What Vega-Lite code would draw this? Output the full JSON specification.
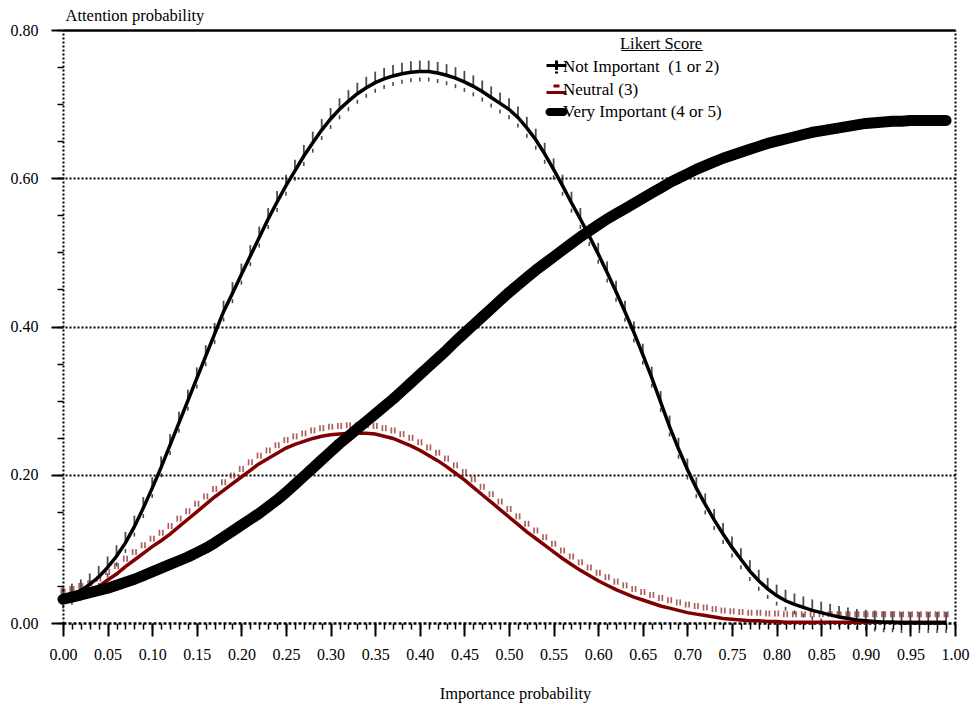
{
  "$schema": "https://vega.github.io/schema/vega-lite/v6.json",
  "width": 892,
  "height": 593,
  "autosize": {"type": "none"},
  "padding": {"left": 63, "top": 30, "right": 19, "bottom": 86},
  "background": "white",
  "config": {
    "view": {"stroke": null},
    "font": "Liberation Serif",
    "axis": {"labelFont": "Liberation Serif", "titleFont": "Liberation Serif", "labelColor": "black", "titleColor": "black", "tickColor": "black", "domainColor": "black", "titleFontWeight": "normal", "labelFontSize": 16, "titleFontSize": 16.5, "grid": false}
  },
  "data": {"values": [
    {"x":0.00,"ni":0.033,"ne":0.032,"vi":0.032},
    {"x":0.01,"ni":0.038,"ne":0.035,"vi":0.035},
    {"x":0.02,"ni":0.044,"ne":0.039,"vi":0.038},
    {"x":0.03,"ni":0.052,"ne":0.043,"vi":0.041},
    {"x":0.04,"ni":0.062,"ne":0.049,"vi":0.044},
    {"x":0.05,"ni":0.075,"ne":0.058,"vi":0.047},
    {"x":0.06,"ni":0.090,"ne":0.066,"vi":0.051},
    {"x":0.07,"ni":0.108,"ne":0.076,"vi":0.055},
    {"x":0.08,"ni":0.130,"ne":0.085,"vi":0.059},
    {"x":0.09,"ni":0.155,"ne":0.094,"vi":0.064},
    {"x":0.10,"ni":0.182,"ne":0.103,"vi":0.069},
    {"x":0.11,"ni":0.210,"ne":0.111,"vi":0.074},
    {"x":0.12,"ni":0.240,"ne":0.120,"vi":0.079},
    {"x":0.13,"ni":0.270,"ne":0.130,"vi":0.084},
    {"x":0.14,"ni":0.300,"ne":0.140,"vi":0.089},
    {"x":0.15,"ni":0.330,"ne":0.150,"vi":0.095},
    {"x":0.16,"ni":0.360,"ne":0.160,"vi":0.101},
    {"x":0.17,"ni":0.390,"ne":0.170,"vi":0.108},
    {"x":0.18,"ni":0.420,"ne":0.179,"vi":0.116},
    {"x":0.19,"ni":0.445,"ne":0.188,"vi":0.124},
    {"x":0.20,"ni":0.470,"ne":0.197,"vi":0.132},
    {"x":0.21,"ni":0.495,"ne":0.206,"vi":0.140},
    {"x":0.22,"ni":0.520,"ne":0.215,"vi":0.148},
    {"x":0.23,"ni":0.545,"ne":0.222,"vi":0.157},
    {"x":0.24,"ni":0.568,"ne":0.229,"vi":0.166},
    {"x":0.25,"ni":0.590,"ne":0.236,"vi":0.176},
    {"x":0.26,"ni":0.610,"ne":0.241,"vi":0.187},
    {"x":0.27,"ni":0.630,"ne":0.245,"vi":0.198},
    {"x":0.28,"ni":0.648,"ne":0.249,"vi":0.209},
    {"x":0.29,"ni":0.665,"ne":0.252,"vi":0.220},
    {"x":0.30,"ni":0.680,"ne":0.254,"vi":0.231},
    {"x":0.31,"ni":0.693,"ne":0.255,"vi":0.242},
    {"x":0.32,"ni":0.704,"ne":0.256,"vi":0.252},
    {"x":0.33,"ni":0.714,"ne":0.256,"vi":0.262},
    {"x":0.34,"ni":0.722,"ne":0.256,"vi":0.272},
    {"x":0.35,"ni":0.729,"ne":0.255,"vi":0.282},
    {"x":0.36,"ni":0.734,"ne":0.252,"vi":0.292},
    {"x":0.37,"ni":0.738,"ne":0.249,"vi":0.302},
    {"x":0.38,"ni":0.741,"ne":0.244,"vi":0.313},
    {"x":0.39,"ni":0.743,"ne":0.239,"vi":0.324},
    {"x":0.40,"ni":0.744,"ne":0.233,"vi":0.335},
    {"x":0.41,"ni":0.744,"ne":0.226,"vi":0.346},
    {"x":0.42,"ni":0.742,"ne":0.219,"vi":0.357},
    {"x":0.43,"ni":0.739,"ne":0.211,"vi":0.368},
    {"x":0.44,"ni":0.735,"ne":0.202,"vi":0.380},
    {"x":0.45,"ni":0.730,"ne":0.193,"vi":0.391},
    {"x":0.46,"ni":0.724,"ne":0.183,"vi":0.402},
    {"x":0.47,"ni":0.717,"ne":0.173,"vi":0.413},
    {"x":0.48,"ni":0.709,"ne":0.163,"vi":0.424},
    {"x":0.49,"ni":0.701,"ne":0.153,"vi":0.435},
    {"x":0.50,"ni":0.693,"ne":0.143,"vi":0.446},
    {"x":0.51,"ni":0.682,"ne":0.133,"vi":0.456},
    {"x":0.52,"ni":0.668,"ne":0.123,"vi":0.466},
    {"x":0.53,"ni":0.652,"ne":0.114,"vi":0.476},
    {"x":0.54,"ni":0.633,"ne":0.105,"vi":0.485},
    {"x":0.55,"ni":0.612,"ne":0.096,"vi":0.494},
    {"x":0.56,"ni":0.590,"ne":0.087,"vi":0.503},
    {"x":0.57,"ni":0.567,"ne":0.079,"vi":0.512},
    {"x":0.58,"ni":0.545,"ne":0.071,"vi":0.521},
    {"x":0.59,"ni":0.522,"ne":0.064,"vi":0.529},
    {"x":0.60,"ni":0.498,"ne":0.057,"vi":0.537},
    {"x":0.61,"ni":0.473,"ne":0.051,"vi":0.545},
    {"x":0.62,"ni":0.447,"ne":0.045,"vi":0.552},
    {"x":0.63,"ni":0.420,"ne":0.040,"vi":0.559},
    {"x":0.64,"ni":0.392,"ne":0.035,"vi":0.566},
    {"x":0.65,"ni":0.362,"ne":0.031,"vi":0.573},
    {"x":0.66,"ni":0.331,"ne":0.027,"vi":0.580},
    {"x":0.67,"ni":0.298,"ne":0.023,"vi":0.587},
    {"x":0.68,"ni":0.265,"ne":0.020,"vi":0.594},
    {"x":0.69,"ni":0.235,"ne":0.017,"vi":0.600},
    {"x":0.70,"ni":0.207,"ne":0.014,"vi":0.606},
    {"x":0.71,"ni":0.182,"ne":0.012,"vi":0.612},
    {"x":0.72,"ni":0.160,"ne":0.010,"vi":0.617},
    {"x":0.73,"ni":0.139,"ne":0.008,"vi":0.622},
    {"x":0.74,"ni":0.120,"ne":0.006,"vi":0.627},
    {"x":0.75,"ni":0.102,"ne":0.005,"vi":0.631},
    {"x":0.76,"ni":0.086,"ne":0.004,"vi":0.635},
    {"x":0.77,"ni":0.070,"ne":0.003,"vi":0.639},
    {"x":0.78,"ni":0.057,"ne":0.003,"vi":0.643},
    {"x":0.79,"ni":0.046,"ne":0.002,"vi":0.647},
    {"x":0.80,"ni":0.037,"ne":0.002,"vi":0.650},
    {"x":0.81,"ni":0.030,"ne":0.001,"vi":0.653},
    {"x":0.82,"ni":0.025,"ne":0.001,"vi":0.656},
    {"x":0.83,"ni":0.021,"ne":0.001,"vi":0.659},
    {"x":0.84,"ni":0.017,"ne":0.001,"vi":0.662},
    {"x":0.85,"ni":0.014,"ne":0.001,"vi":0.664},
    {"x":0.86,"ni":0.011,"ne":0.001,"vi":0.666},
    {"x":0.87,"ni":0.008,"ne":0.001,"vi":0.668},
    {"x":0.88,"ni":0.006,"ne":0.001,"vi":0.670},
    {"x":0.89,"ni":0.004,"ne":0.001,"vi":0.672},
    {"x":0.90,"ni":0.003,"ne":0.001,"vi":0.674},
    {"x":0.91,"ni":0.002,"ne":0.001,"vi":0.675},
    {"x":0.92,"ni":0.001,"ne":0.001,"vi":0.676},
    {"x":0.93,"ni":0.001,"ne":0.001,"vi":0.677},
    {"x":0.94,"ni":0.000,"ne":0.001,"vi":0.677},
    {"x":0.95,"ni":0.000,"ne":0.001,"vi":0.678},
    {"x":0.96,"ni":0.000,"ne":0.001,"vi":0.678},
    {"x":0.97,"ni":0.000,"ne":0.001,"vi":0.678},
    {"x":0.98,"ni":0.000,"ne":0.001,"vi":0.678},
    {"x":0.99,"ni":0.000,"ne":0.001,"vi":0.678}
  ]},
  "layer": [
    {
      "mark": {"type": "line", "strokeWidth": 3.5},
      "encoding": {
        "x": {"field": "x", "type": "quantitative", "scale": {"domain": [0, 1], "nice": false, "zero": false},
          "axis": {"orient": "bottom", "values": [0,0.05,0.1,0.15,0.2,0.25,0.3,0.35,0.4,0.45,0.5,0.55,0.6,0.65,0.7,0.75,0.8,0.85,0.9,0.95,1], "format": ".2f", "tickSize": 13, "tickWidth": 2, "labelPadding": 10, "domain": true, "domainDash": [3, 2], "domainWidth": 2.5, "title": "Importance probability", "titleX": 452, "titleY": 75, "titleBaseline": "alphabetic", "labelFlush": false, "labelOverlap": false, "labelBound": false, "grid": false}},
        "y": {"field": "ne", "type": "quantitative", "scale": {"domain": [0, 0.8], "nice": false, "zero": false},
          "axis": {"orient": "left", "values": [0, 0.2, 0.4, 0.6, 0.8], "format": ".2f", "tickSize": 12, "tickWidth": 2, "labelPadding": 13, "domain": true, "domainDash": [2, 2], "domainWidth": 2, "title": "Attention probability", "titleAngle": 0, "titleAlign": "left", "titleBaseline": "alphabetic", "titleX": 2, "titleY": -10, "labelOverlap": false, "grid": false}},
        "color": {"datum": "Neutral (3)", "type": "nominal",
          "scale": {"domain": ["Not Important\u00a0\u00a0(1 or 2)", "Neutral (3)", "Very Important (4 or 5)"], "range": ["black", "#800000", "black"]},
          "legend": {
            "orient": "none", "legendX": 485, "legendY": 6, "direction": "vertical",
            "title": "L\u0332i\u0332k\u0332e\u0332r\u0332t\u0332 \u0332S\u0332c\u0332o\u0332r\u0332e\u0332",
            "titleFont": "Liberation Serif", "titleFontSize": 16.5, "titleFontWeight": "normal", "titleColor": "black", "titleAnchor": "end", "titlePadding": 6,
            "labelFont": "Liberation Serif", "labelFontSize": 17, "labelColor": "black", "labelOffset": -2, "labelLimit": 300,
            "symbolSize": 100, "symbolType": "stroke", "symbolStrokeWidth": 3, "rowPadding": -3,
            "encode": {
              "title": {"update": {"dx": {"value": -20}}},
              "symbols": {"update": {
                "shape": {"signal": "datum.value === 'Very Important (4 or 5)' ? 'M0,-1.45M0,1.45M-1.4,-0.8H1.4A0.8,0.8 0 0 1 1.4,0.8H-1.4A0.8,0.8 0 0 1 -1.4,-0.8Z' : (datum.value === 'Neutral (3)' ? 'M0,-1.45M0,1.45M-2,0.5H2M-0.3,-1.1V-0.5M0.3,-1.1V-0.5' : 'M-2,-0.3H2M0,-1.3V0.6M0,0.9V1.3')"},
                "strokeWidth": {"signal": "datum.value === 'Very Important (4 or 5)' ? 0 : 3"},
                "fill": {"signal": "datum.value === 'Very Important (4 or 5)' ? 'black' : 'transparent'"},
                "fillOpacity": {"value": 1}
              }}
            }
          }}
      }
    },
    {
      "mark": {"type": "tick", "orient": "vertical", "color": "#8b1a1a", "size": 6, "thickness": 1.7, "yOffset": -8, "xOffset": -1.7},
      "encoding": {
        "x": {"field": "x", "type": "quantitative", "scale": {"domain": [0, 1], "nice": false, "zero": false},
          "axis": {"orient": "bottom", "tickCount": 100, "labels": false, "domain": false, "tickSize": 6, "tickWidth": 1.5, "title": null, "grid": false}},
        "y": {"field": "ne", "type": "quantitative", "scale": {"domain": [0, 0.8], "nice": false, "zero": false},
          "axis": {"orient": "left", "tickCount": 16, "labels": false, "domain": false, "tickSize": 6, "tickWidth": 1.5, "title": null, "grid": false}}
      }
    },
    {
      "mark": {"type": "tick", "orient": "vertical", "color": "#8b1a1a", "size": 6, "thickness": 1.7, "yOffset": -8, "xOffset": 1.7},
      "encoding": {
        "x": {"field": "x", "type": "quantitative", "scale": {"domain": [0, 1], "nice": false, "zero": false},
          "axis": {"orient": "top", "ticks": false, "labels": false, "domain": true, "domainWidth": 2.5, "title": null, "grid": false}},
        "y": {"field": "ne", "type": "quantitative", "scale": {"domain": [0, 0.8], "nice": false, "zero": false},
          "axis": {"orient": "right", "values": [0.2, 0.4, 0.6], "ticks": false, "labels": false, "domain": true, "domainDash": [2, 2], "domainWidth": 2, "title": null, "grid": true, "gridDash": [2, 2], "gridColor": "black", "gridWidth": 2, "gridOpacity": 1}}
      }
    },
    {
      "mark": {"type": "line", "strokeWidth": 3.5},
      "encoding": {
        "x": {"field": "x", "type": "quantitative", "scale": {"domain": [0, 1], "nice": false, "zero": false}, "axis": null},
        "y": {"field": "ni", "type": "quantitative", "scale": {"domain": [0, 0.8], "nice": false, "zero": false}, "axis": null},
        "color": {"datum": "Not Important\u00a0\u00a0(1 or 2)", "type": "nominal"}
      }
    },
    {
      "mark": {"type": "tick", "orient": "vertical", "color": "black", "size": 12, "thickness": 1.8, "yOffset": -5},
      "encoding": {
        "x": {"field": "x", "type": "quantitative", "scale": {"domain": [0, 1], "nice": false, "zero": false}, "axis": null},
        "y": {"field": "ni", "type": "quantitative", "scale": {"domain": [0, 0.8], "nice": false, "zero": false}, "axis": null}
      }
    },
    {
      "mark": {"type": "tick", "orient": "vertical", "color": "black", "size": 4, "thickness": 1.6, "yOffset": 8},
      "encoding": {
        "x": {"field": "x", "type": "quantitative", "scale": {"domain": [0, 1], "nice": false, "zero": false}, "axis": null},
        "y": {"field": "ni", "type": "quantitative", "scale": {"domain": [0, 0.8], "nice": false, "zero": false}, "axis": null}
      }
    },
    {
      "mark": {"type": "line", "strokeWidth": 11, "strokeCap": "round", "strokeJoin": "round"},
      "encoding": {
        "x": {"field": "x", "type": "quantitative", "scale": {"domain": [0, 1], "nice": false, "zero": false}, "axis": null},
        "y": {"field": "vi", "type": "quantitative", "scale": {"domain": [0, 0.8], "nice": false, "zero": false}, "axis": null},
        "color": {"datum": "Very Important (4 or 5)", "type": "nominal"}
      }
    }
  ],
  "resolve": {"axis": {"x": "independent", "y": "independent"}}
}
